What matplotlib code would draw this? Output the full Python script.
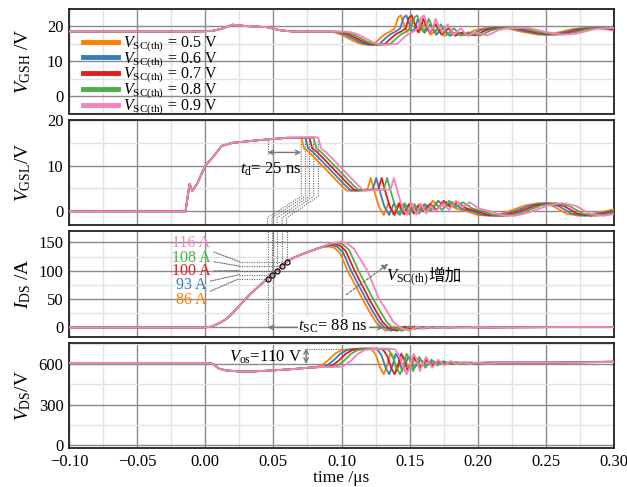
import numpy as np
import matplotlib
matplotlib.use("Agg")
import matplotlib.pyplot as plt
from matplotlib.ticker import MultipleLocator, FuncFormatter
from matplotlib.offsetbox import TextArea, HPacker, AnnotationBbox

plt.rcParams['font.family'] = ['Liberation Serif', 'Noto Sans CJK SC']
plt.rcParams['mathtext.fontset'] = 'custom'
plt.rcParams['mathtext.rm'] = 'Liberation Serif'
plt.rcParams['mathtext.it'] = 'Liberation Serif:italic'
plt.rcParams['mathtext.bf'] = 'Liberation Serif:bold'
plt.rcParams['axes.unicode_minus'] = True

# ---------------------------------------------------------------- data
vsc_th = [0.5, 0.6, 0.7, 0.8, 0.9]                      # V
colors = ['#ff7f00', '#377eb8', '#e41a1c', '#4daf4a', '#f781bf']

# gate turn-off instants on the VGSL edge (us)
t_off = [0.0705, 0.0735, 0.0765, 0.0795, 0.0830]
# delay of the post-turn-off ringing with respect to 0.5 V (ns)
ring_delay_ns = [0, 4, 8, 12, 17]

# short-circuit detection instants and the current at those instants
detect_t = [0.0458, 0.0490, 0.0527, 0.0564, 0.0597]
detect_i = [86, 93, 100, 108, 116]
detect_label_y = [49, 74, 99, 123, 148]

# VGSH (t [us], V)
vgsh_common = [(-0.10, 18.5), (-0.01, 18.5), (0.005, 18.7), (0.012, 19.3),
               (0.02, 20.5), (0.03, 20.1), (0.045, 19.8), (0.055, 18.9),
               (0.065, 18.5), (0.12, 18.5)]
vgsh_fall = [(0.090, 18.5), (0.095, 18.3), (0.100, 17.6), (0.105, 16.6),
             (0.110, 15.6), (0.115, 14.9), (0.120, 14.7)]
vgsh_ring = [(0.124, 15.0), (0.128, 16.5), (0.132, 17.8), (0.136, 18.6),
             (0.139, 19.4), (0.1415, 22.5), (0.1435, 23.2), (0.1455, 21.0),
             (0.148, 18.4), (0.1505, 20.0), (0.152, 22.2), (0.1545, 20.0),
             (0.157, 18.2), (0.161, 20.6), (0.1655, 17.6), (0.1705, 19.5),
             (0.1755, 17.3), (0.181, 18.3), (0.190, 17.4), (0.198, 18.9),
             (0.205, 19.5), (0.220, 19.6), (0.232, 18.5), (0.245, 17.6),
             (0.255, 17.9), (0.270, 19.3), (0.285, 19.6), (0.300, 18.9),
             (0.330, 18.9)]

# VGSL (t [us], V)
vgsl_common = [(-0.10, 0.0), (-0.0145, 0.0), (-0.013, 3.0), (-0.0115, 6.0),
               (-0.0095, 4.5), (-0.006, 6.0), (0.0, 10.0), (0.006, 12.0),
               (0.012, 14.3), (0.02, 15.0), (0.04, 15.6), (0.06, 16.1),
               (0.08, 16.3), (0.10, 16.3)]
vgsl_fall = [(0.0705, 16.1), (0.0725, 13.8), (0.076, 13.0), (0.080, 11.8),
             (0.090, 8.7), (0.100, 5.6), (0.104, 4.5), (0.108, 4.6),
             (0.116, 4.7)]
vgsl_ring = [(0.119, 4.8), (0.1215, 7.3), (0.1245, 4.0), (0.1275, 1.0),
             (0.131, -0.8), (0.1345, 1.8), (0.138, -0.7), (0.1415, 1.6),
             (0.145, -0.5), (0.1485, 1.2), (0.152, 0.0), (0.157, 1.6),
             (0.162, 0.3), (0.167, 2.3), (0.172, 0.9), (0.177, 2.0),
             (0.184, 0.6), (0.192, 0.0), (0.200, -0.8), (0.210, -1.0),
             (0.220, -0.3), (0.235, 1.3), (0.245, 1.8), (0.255, 1.2),
             (0.265, -0.5), (0.275, -1.0), (0.285, -0.5), (0.300, 0.4),
             (0.330, 0.4)]

# IDS (t [us], A)
ids_common = [(-0.10, 0.0), (0.0, 0.0), (0.005, 1.5), (0.0105, 7.7),
              (0.015, 14.0), (0.02, 25.0), (0.0325, 57.6), (0.04, 74.0),
              (0.0458, 86.0), (0.049, 93.0), (0.0527, 100.0), (0.0564, 108.0),
              (0.0597, 116.0), (0.065, 123.0), (0.072, 130.0), (0.08, 137.0)]
ids_fall_05 = [(0.082, 138.5), (0.086, 141.5), (0.091, 142.6), (0.095, 140.0),
               (0.099, 131.0), (0.1045, 100.0), (0.1154, 50.0), (0.120, 30.0),
               (0.125, 10.0), (0.129, 0.0)]
ids_fall_06 = [(0.082, 139.0), (0.087, 143.0), (0.093, 145.0), (0.097, 142.0),
               (0.101, 133.0), (0.107, 100.0), (0.1179, 50.0), (0.1225, 30.0),
               (0.1275, 10.0), (0.1315, 0.0)]
ids_fall_07 = [(0.083, 139.5), (0.089, 144.5), (0.095, 147.0), (0.099, 144.0),
               (0.103, 135.0), (0.1096, 100.0), (0.1203, 50.0), (0.125, 30.0),
               (0.130, 10.0), (0.134, 0.0)]
ids_fall_08 = [(0.084, 140.0), (0.090, 146.0), (0.097, 149.0), (0.101, 146.5),
               (0.1055, 137.0), (0.1125, 100.0), (0.1232, 50.0), (0.128, 30.0),
               (0.133, 10.0), (0.137, 0.0)]
ids_fall_09 = [(0.085, 141.0), (0.092, 148.0), (0.0995, 151.0), (0.104, 148.5),
               (0.109, 139.0), (0.119, 100.0), (0.1276, 50.0), (0.133, 30.0),
               (0.138, 10.0), (0.1425, 0.0)]
ids_ring = [(0.1325, -6.0), (0.136, -2.0), (0.1385, 1.5), (0.142, -3.0),
            (0.1455, 1.5), (0.149, -2.0), (0.153, 1.0), (0.157, -1.0),
            (0.163, 0.8), (0.170, -0.3), (0.180, 0.5), (0.200, 0.0),
            (0.250, 0.5), (0.330, 0.5)]

# VDS (t [us], V)
vds_common = [(-0.10, 607), (0.003, 607), (0.006, 598), (0.010, 566),
              (0.015, 553), (0.025, 545), (0.035, 545), (0.050, 553),
              (0.065, 563), (0.075, 572), (0.085, 578), (0.100, 583)]
vds_event = [(0.081, 578), (0.085, 588), (0.090, 625), (0.095, 675),
             (0.100, 703), (0.108, 712), (0.118, 714), (0.1225, 706),
             (0.1255, 660), (0.1285, 570), (0.131, 524), (0.1335, 590),
             (0.1358, 675), (0.138, 640), (0.1405, 548), (0.1428, 600),
             (0.145, 652), (0.1472, 615), (0.1495, 572), (0.1518, 600),
             (0.154, 632), (0.1562, 610), (0.1585, 590), (0.163, 622),
             (0.1675, 598), (0.172, 614), (0.177, 600), (0.183, 612),
             (0.190, 603), (0.200, 610), (0.250, 610), (0.300, 618),
             (0.330, 620)]

x_ticks = [-0.10, -0.05, 0.00, 0.05, 0.10, 0.15, 0.20, 0.25, 0.30]


def assemble(common, segments):
    """Common pre-event waveform followed by time-shifted event knots."""
    start = segments[0][0][0][0] + segments[0][1]
    pts = [p for p in common if p[0] < start]
    for knots, shift in segments:
        pts += [(t + shift, v) for t, v in knots]
    arr = np.array(pts, dtype=float)
    return arr[:, 0], arr[:, 1]


fall_shift = [t - t_off[0] for t in t_off]
ring_shift = [d * 1e-3 for d in ring_delay_ns]
ids_fall = [ids_fall_05, ids_fall_06, ids_fall_07, ids_fall_08, ids_fall_09]

# ---------------------------------------------------------------- figure
W, H = 627, 487
fig = plt.figure(figsize=(W / 100, H / 100), dpi=100)


def axes_px(top, bottom, left=69, right=614):
    return fig.add_axes([left / W, 1 - bottom / H, (right - left) / W,
                         (bottom - top) / H])


ax1 = axes_px(9, 113.5)
ax2 = axes_px(120, 225)
ax3 = axes_px(231, 337)
ax4 = axes_px(343, 448)
axes = [ax1, ax2, ax3, ax4]

grid_major = '#8a8a8a'
grid_minor = '#e2e2e2'
for ax in axes:
    ax.set_xlim(-0.10, 0.30)
    ax.xaxis.set_major_locator(MultipleLocator(0.05))
    ax.xaxis.set_minor_locator(MultipleLocator(0.025))
    ax.grid(True, which='major', color=grid_major, lw=1.0, zorder=0)
    ax.grid(True, which='minor', color=grid_minor, lw=1.0, zorder=0)
    ax.set_axisbelow(True)
    ax.tick_params(which='both', length=0, labelsize=12, pad=4)
    for s in ax.spines.values():
        s.set_color('#222222')
        s.set_linewidth(1.3)
    if ax is not ax4:
        ax.tick_params(labelbottom=False)

ax1.set_ylim(-5, 25)
ax1.set_yticks([0, 10, 20])
ax1.yaxis.set_minor_locator(MultipleLocator(5))
ax2.set_ylim(-3, 20)
ax2.set_yticks([0, 10, 20])
ax2.yaxis.set_minor_locator(MultipleLocator(5))
ax3.set_ylim(-17, 170)
ax3.set_yticks([0, 50, 100, 150])
ax3.yaxis.set_minor_locator(MultipleLocator(25))
ax4.set_ylim(-20, 755)
ax4.set_yticks([0, 300, 600])
ax4.yaxis.set_minor_locator(MultipleLocator(150))

ax4.set_xticks(x_ticks)
ax4.xaxis.set_major_formatter(FuncFormatter(
    lambda v, p: f"{v:.2f}".replace('-', '\u2212')))
ax4.set_xlabel('time /\u03bcs', fontsize=12.5, labelpad=0)

ylabels = ['$V_{\\mathrm{GSH}}$ /V', '$V_{\\mathrm{GSL}}$/V',
           '$I_{\\mathrm{DS}}$ /A', '$V_{\\mathrm{DS}}$/V']
for ax, lab in zip(axes, ylabels):
    ax.set_ylabel(lab, fontsize=14)
    ax.yaxis.set_label_coords(-0.066, 0.5)

# ---------------------------------------------------------------- curves
lw = 1.3
for k in range(5):
    c = colors[k]
    lab = f'$V_{{\\mathrm{{SC(th)}}}}$ = {vsc_th[k]} V'
    t, v = assemble(vgsh_common, [(vgsh_fall, fall_shift[k]),
                                  (vgsh_ring, ring_shift[k])])
    ax1.plot(t, v, color=c, lw=lw, label=lab, zorder=3 + k)
    t, v = assemble(vgsl_common, [(vgsl_fall, fall_shift[k]),
                                  (vgsl_ring, ring_shift[k])])
    ax2.plot(t, v, color=c, lw=lw, zorder=3 + k)
    t, v = assemble(ids_common, [(ids_fall[k], 0.0), (ids_ring, ring_shift[k])])
    ax3.plot(t, v, color=c, lw=lw, zorder=3 + k)
    t, v = assemble(vds_common, [(vds_event, ring_shift[k])])
    ax4.plot(t, v, color=c, lw=lw, zorder=3 + k)

leg = ax1.legend(loc='upper left', bbox_to_anchor=(0.005, 0.86), frameon=False,
                 fontsize=11.5, handlelength=2.2, handletextpad=0.3,
                 labelspacing=-0.21, borderpad=0.2)
for h in leg.get_lines():
    h.set_linewidth(3.5)
leg.set_zorder(20)

# ---------------------------------------------------------------- annotations
dot = dict(color='#666666', lw=0.8, ls=(0, (1, 1.2)), zorder=2)

# turn-off paths in VGSL down to the detection instants
for k in range(5):
    ax2.plot([t_off[k], t_off[k], detect_t[k], detect_t[k]],
             [15.3, 3.3, -1.4, -3.0], clip_on=False, **dot)
    ax3.plot([detect_t[k], detect_t[k]], [detect_i[k], 170], **dot)
ax3.plot([detect_t[0], detect_t[0]], [0, detect_i[0]], **dot)
ax2.plot([detect_t[0], detect_t[0]], [15.5, 12.3], **dot)

ax2.annotate('', xy=(detect_t[0], 12.9), xytext=(t_off[0], 12.9),
             arrowprops=dict(arrowstyle='<->', color='#777777', lw=1.0,
                             shrinkA=0, shrinkB=0, mutation_scale=8))
ax2.text(t_off[0], 9.2, '$t_{\\mathrm{d}}$= 25 ns', fontsize=12,
         ha='right', va='center', zorder=10)

# detection current labels
for k in range(5):
    ax3.annotate(f'{detect_i[k]} A', xy=(0.025, detect_i[k]),
                 xytext=(-0.0105, detect_label_y[k]), fontsize=11.5,
                 color=colors[k], ha='center', va='center',
                 arrowprops=dict(arrowstyle='-', color='#666666', lw=0.8,
                                 ls=(0, (1, 1.2)), shrinkA=1, shrinkB=0))
    ax3.plot([0.025, detect_t[k]], [detect_i[k], detect_i[k]], **dot)
ax3.plot(detect_t, detect_i, ls='none', marker='o', ms=3.6, mfc='none',
         mec='#111111', mew=0.9, zorder=12)

# short-circuit duration
ax3.annotate('', xy=(detect_t[0], 0), xytext=(0.131, 0),
             arrowprops=dict(arrowstyle='<->', color='#777777', lw=1.0,
                             shrinkA=0, shrinkB=0, mutation_scale=8),
             zorder=9)
ax3.text(0.094, 1, '$t_{\\mathrm{SC}}$= 88 ns', fontsize=12, ha='center',
         va='center', zorder=10,
         bbox=dict(boxstyle='square,pad=0.05', fc='white', ec='none'))

# threshold trend arrow
ax3.annotate('', xy=(0.136, 115), xytext=(0.102, 55),
             arrowprops=dict(arrowstyle='-|>', color='#777777', lw=1.0,
                             ls=(0, (1.5, 1.5)), mutation_scale=9),
             zorder=10)
trend = HPacker(children=[
    TextArea('$V_{\\mathrm{SC(th)}}$', textprops=dict(fontsize=12)),
    TextArea('增加', textprops=dict(fontsize=12,
                                    family=['Noto Sans CJK SC']))],
    align='baseline', pad=0, sep=0)
ax3.add_artist(AnnotationBbox(trend, (0.1325, 87), box_alignment=(0, 0.5),
                              frameon=False, zorder=10))

# overshoot
ax4.plot([0.074, 0.12], [713, 713], **dot)
ax4.annotate('', xy=(0.074, 716), xytext=(0.074, 602),
             arrowprops=dict(arrowstyle='<->', color='#777777', lw=1.0,
                             shrinkA=0, shrinkB=0, mutation_scale=8))
ax4.text(0.071, 652, '$V_{\\mathrm{os}}$=110 V', fontsize=12, ha='right',
         va='center', zorder=10)

fig.savefig('out.png', dpi=100)
